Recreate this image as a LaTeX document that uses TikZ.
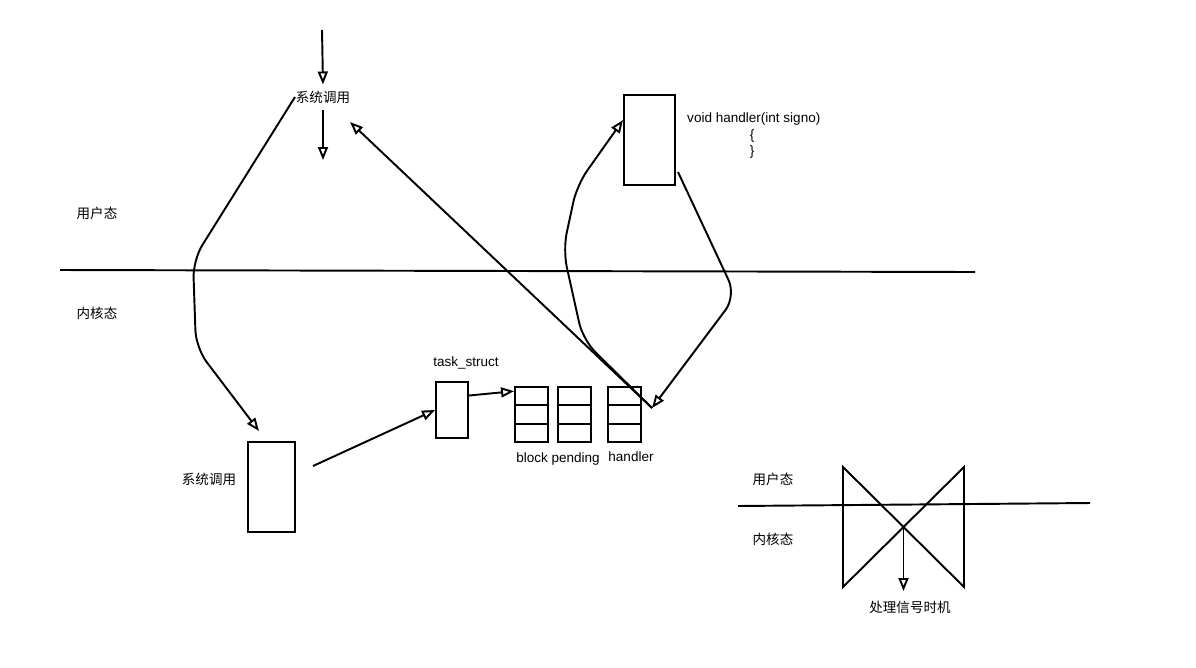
\documentclass[tikz,border=0pt]{standalone}
\usepackage{fontspec}
\setmainfont{Liberation Sans}
\newfontfamily\cjk{Noto Sans CJK SC}
\usetikzlibrary{arrows.meta,calc,positioning}

\begin{document}
\begin{tikzpicture}[
    x=0.02cm, y=-0.02cm,
    font=\fontsize{7.7}{9}\selectfont,
    line width=1.1pt,
    arr/.style={-{Triangle[open,length=0.26cm,width=0.2cm]}},
    bendarr/.style={arr, rounded corners=0.35cm},
    box/.style={draw, rectangle, inner sep=0pt},
    tallbox/.style={box, minimum width=0.94cm, minimum height=1.8cm},
    cell/.style={box, minimum width=0.66cm, minimum height=1.1cm},
    lbl/.style={inner sep=3pt}
]
\useasboundingbox (0,0) rectangle (1196,667);

% frontieres
\draw (60,270) -- (975,272);
\node[lbl] (user) at (97,213) {\cjk 用户态};
\node[lbl] (kern) at (97,313) {\cjk 内核态};

% appel systeme
\coordinate (start) at (322,30);
\node[lbl] (sys) at (323,97) {\cjk 系统调用};
\coordinate (sysend) at (323,160);
\draw[arr] (start) -- (sys.north);
\draw[arr] (sys.south) -- (sysend);

\node[tallbox] (callbox) at (271.5,487) {};
\node[lbl] (calllbl) at (209,479) {\cjk 系统调用};
\coordinate (callin) at (259,431);
\draw[bendarr] ([xshift=3pt]sys.west) -- (193,260) -- (196,348) -- (callin);

% task_struct
\node[box, minimum width=0.64cm, minimum height=1.12cm] (task) at (452,410) {};
\node[lbl] (tasklbl) at (466,363) {task\_struct};
\coordinate (callout) at (313,466);
\draw[arr] (callout) -- (task.west);

\node[cell] (blk) at (531.5,414.5) {};
\node[cell, right=0.16cm of blk] (pnd) {};
\node[cell, right=0.3cm of pnd] (hdl) {};
\foreach \c in {blk,pnd,hdl} {
    \draw ($(\c.north west)!1/3!(\c.south west)$) -- ($(\c.north east)!1/3!(\c.south east)$);
    \draw ($(\c.north west)!2/3!(\c.south west)$) -- ($(\c.north east)!2/3!(\c.south east)$);
}
\node[lbl] (bplbl) at (558,459) {block pending};
\node[lbl] (hdllbl) at (631,457) {handler};
\draw[arr] ($(task.north east)!0.25!(task.south east)$) -- ($(blk.north west)!0.09!(blk.south west)$);

% handler utilisateur
\node[box, minimum width=1.02cm, minimum height=1.8cm] (func) at (649.5,140) {};
\node[lbl, anchor=west] (funclbl) at (681,119) {void handler(int signo)};
\node[inner sep=0pt] (lbrace) at (752,136) {\{};
\node[inner sep=0pt] (rbrace) at (752,152) {\}};

\coordinate (hdlout) at (652,408);
\coordinate (sysin) at (350,122);
\coordinate (funcin) at (623,120);
\coordinate (funcout) at (678,172);
\draw[arr] (hdlout) -- (sysin);
\draw[bendarr] (hdlout) -- (583,340) -- (563,250) -- (577,185) -- (funcin);
\draw[bendarr] (funcout) -- (736,296) -- (hdlout);

% moment de traitement
\draw (738,506) -- (1090,503);
\node[lbl] (user2) at (773,479) {\cjk 用户态};
\node[lbl] (kern2) at (773,539) {\cjk 内核态};
\coordinate (tl) at (843,467);
\coordinate (tr) at (964,467);
\coordinate (bl) at (843,587);
\coordinate (br) at (964,587);
\draw (tl) -- (bl) -- (tr) -- (br) -- cycle;
\coordinate (cross) at (903.5,527);
\coordinate (crossend) at (903.5,591);
\node[lbl] (timing) at (910,607) {\cjk 处理信号时机};
\draw[arr] (cross) -- (crossend);
\end{tikzpicture}
\end{document}
